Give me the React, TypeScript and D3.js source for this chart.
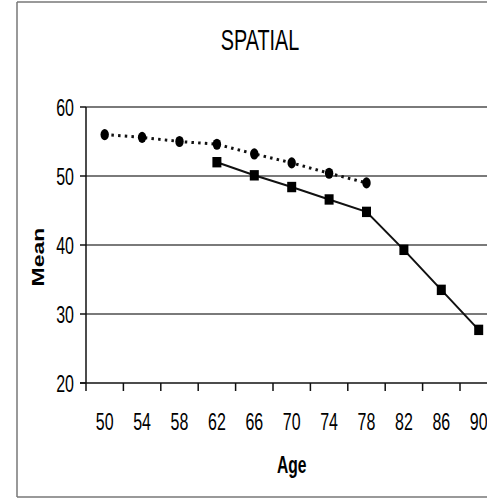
import React from "react";
import * as d3 from "d3";

const ages = ["50", "54", "58", "62", "66", "70", "74", "78", "82", "86", "90"];
const circleAges = ["50", "54", "58", "62", "66", "70", "74", "78"];
const circleValues = [56.0, 55.6, 55.0, 54.6, 53.2, 51.9, 50.4, 49.0];
const squareAges = ["62", "66", "70", "74", "78", "82", "86", "90"];
const squareValues = [52.0, 50.1, 48.4, 46.6, 44.8, 39.3, 33.5, 27.7];
const yTicks = [20, 30, 40, 50, 60];

const W = 487;
const H = 499;
const left = 86;
const bandW = 37.4;
const top = 107;
const bottom = 383;
const SX = 0.68;
const FONT = "'Liberation Sans', Arial, sans-serif";

export default function App() {
  const x = d3.scaleBand<string>().domain(ages).range([left, left + bandW * ages.length]).padding(0);
  const y = d3.scaleLinear().domain([20, 60]).range([bottom, top]);
  const cx = (a: string) => (x(a) as number) + x.bandwidth() / 2;

  const line = d3
    .line<[string, number]>()
    .x((d) => cx(d[0]))
    .y((d) => y(d[1]));

  const circData: [string, number][] = circleAges.map((a, i) => [a, circleValues[i]]);
  const sqData: [string, number][] = squareAges.map((a, i) => [a, squareValues[i]]);
  const right = left + bandW * ages.length;
  const tickXs = d3.range(ages.length + 1).map((i) => left + i * bandW);

  return (
    <svg width={W} height={H} style={{ position: "absolute", left: 0, top: 0, background: "#fff", overflow: "hidden" }}>
      <line x1={17} x2={W} y1={2} y2={2} stroke="#777" strokeWidth={1.5} />
      <line x1={17} x2={W} y1={497} y2={497} stroke="#777" strokeWidth={1.5} />
      <line x1={17} x2={17} y1={2} y2={497} stroke="#777" strokeWidth={1.5} />
      {/* title */}
      <text
        transform={`translate(260,50) scale(0.66,1)`}
        textAnchor="middle"
        fontFamily={FONT}
        fontSize={30}
        fill="#000"
      >
        SPATIAL
      </text>
      {/* gridlines */}
      {yTicks.filter((t) => t > 20).map((t) => (
        <line key={"g" + t} x1={left} x2={right} y1={y(t)} y2={y(t)} stroke="#7a7a7a" strokeWidth={2} />
      ))}
      {/* y axis */}
      <line x1={left} x2={left} y1={top} y2={bottom} stroke="#111" strokeWidth={1.5} />
      {yTicks.map((t) => (
        <g key={"yt" + t}>
          <line x1={left - 6} x2={left} y1={y(t)} y2={y(t)} stroke="#111" strokeWidth={1.5} />
          <text
            transform={`translate(74,${y(t) + 8.5}) scale(${SX},1)`}
            textAnchor="end"
            fontFamily={FONT}
            fontSize={23.5}
            fill="#000"
          >
            {t}
          </text>
        </g>
      ))}
      {/* x axis */}
      <line x1={left - 6} x2={right} y1={bottom} y2={bottom} stroke="#111" strokeWidth={1.5} />
      {tickXs.map((tx, i) => (
        <line key={"xt" + i} x1={tx} x2={tx} y1={bottom} y2={bottom + 8} stroke="#111" strokeWidth={1.5} />
      ))}
      {ages.map((a) => (
        <text
          key={"xl" + a}
          transform={`translate(${cx(a)},430) scale(${SX},1)`}
          textAnchor="middle"
          fontFamily={FONT}
          fontSize={23.5}
          fill="#000"
        >
          {a}
        </text>
      ))}
      {/* axis titles */}
      <text
        transform={`translate(291.7,473) scale(${SX},1)`}
        textAnchor="middle"
        fontFamily={FONT}
        fontSize={23}
        fontWeight="bold"
        fill="#000"
      >
        Age
      </text>
      <text
        transform={`translate(43.5,257) scale(${SX},1) rotate(-90)`}
        textAnchor="middle"
        fontFamily={FONT}
        fontSize={23}
        fontWeight="bold"
        fill="#000"
      >
        Mean
      </text>
      {/* dotted series */}
      <path d={line(circData) || ""} fill="none" stroke="#111" strokeWidth={3} strokeDasharray="2.5,4.2" />
      {circData.map((d) => (
        <ellipse key={"c" + d[0]} cx={cx(d[0])} cy={y(d[1])} rx={4.2} ry={5.6} fill="#000" />
      ))}
      {/* solid series */}
      <path d={line(sqData) || ""} fill="none" stroke="#111" strokeWidth={2} />
      {sqData.map((d) => (
        <rect key={"s" + d[0]} x={cx(d[0]) - 4.5} y={y(d[1]) - 5.2} width={9} height={10.4} fill="#000" />
      ))}
    </svg>
  );
}
